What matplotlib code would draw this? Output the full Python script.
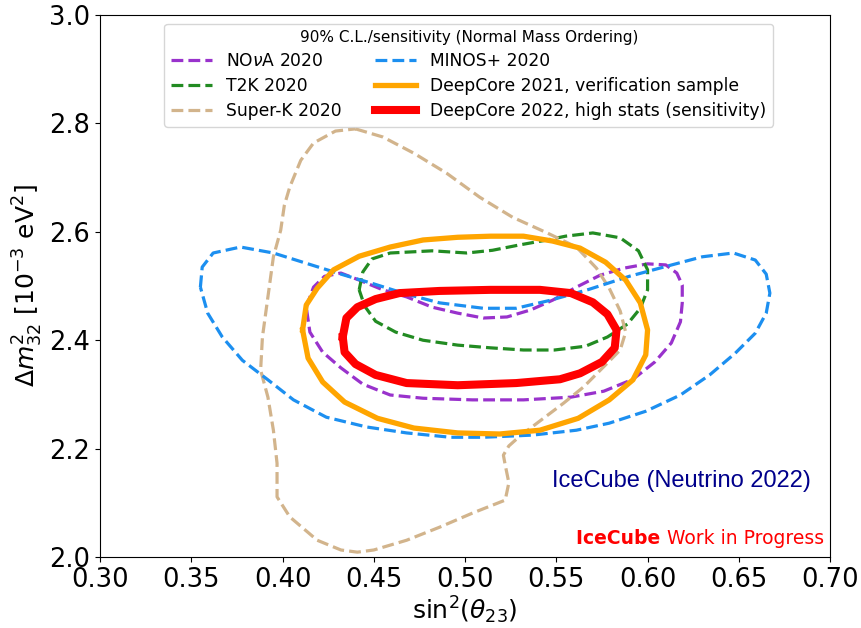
import matplotlib
matplotlib.use("Agg")
import matplotlib.pyplot as plt
import numpy as np

# ---- contour data (sin^2 theta23, dm^2_32 [1e-3 eV^2]) ----
superk_x = [0.440, 0.455, 0.472, 0.490, 0.508, 0.526, 0.545, 0.561, 0.572, 0.579, 0.585, 0.588, 0.585,
            0.578, 0.565, 0.554, 0.541, 0.530, 0.524, 0.521, 0.522, 0.524, 0.522, 0.504, 0.486, 0.468,
            0.450, 0.441, 0.432, 0.419, 0.404, 0.397, 0.397, 0.395, 0.392, 0.388, 0.389, 0.392, 0.395,
            0.399, 0.401, 0.404, 0.410, 0.417, 0.429]
superk_y = [2.790, 2.775, 2.745, 2.708, 2.664, 2.627, 2.598, 2.572, 2.533, 2.496, 2.454, 2.415, 2.382,
            2.358, 2.314, 2.284, 2.251, 2.223, 2.205, 2.188, 2.170, 2.137, 2.105, 2.081, 2.055, 2.031,
            2.013, 2.009, 2.013, 2.031, 2.074, 2.111, 2.173, 2.234, 2.295, 2.345, 2.406, 2.480, 2.554,
            2.603, 2.649, 2.683, 2.732, 2.764, 2.786]

nova_x = [0.413, 0.417, 0.423, 0.432, 0.442, 0.455, 0.468, 0.482, 0.496, 0.510, 0.523, 0.536, 0.548,
          0.561, 0.574, 0.587, 0.600, 0.610, 0.616, 0.619, 0.619, 0.618, 0.613, 0.604, 0.592, 0.576,
          0.558, 0.532, 0.504, 0.477, 0.459, 0.444, 0.432, 0.422, 0.415]
nova_y = [2.461, 2.498, 2.518, 2.524, 2.511, 2.493, 2.480, 2.461, 2.450, 2.441, 2.443, 2.456, 2.474,
          2.498, 2.520, 2.533, 2.541, 2.539, 2.524, 2.502, 2.469, 2.434, 2.395, 2.360, 2.328, 2.306,
          2.295, 2.290, 2.290, 2.293, 2.299, 2.319, 2.349, 2.378, 2.415]

t2k_x = [0.442, 0.444, 0.449, 0.459, 0.482, 0.501, 0.515, 0.530, 0.545, 0.555, 0.570, 0.585, 0.595,
         0.600, 0.600, 0.596, 0.589, 0.578, 0.566, 0.549, 0.532, 0.514, 0.496, 0.477, 0.462, 0.451, 0.445]
t2k_y = [2.493, 2.526, 2.550, 2.561, 2.565, 2.561, 2.566, 2.576, 2.585, 2.592, 2.598, 2.589, 2.565,
         2.530, 2.493, 2.459, 2.430, 2.406, 2.389, 2.382, 2.382, 2.386, 2.391, 2.400, 2.415, 2.435, 2.463]

minos_x = [0.355, 0.356, 0.362, 0.377, 0.395, 0.413, 0.432, 0.450, 0.468, 0.486, 0.510, 0.528, 0.547,
           0.568, 0.590, 0.611, 0.630, 0.647, 0.659, 0.665, 0.667, 0.665, 0.659, 0.648, 0.634, 0.618,
           0.599, 0.579, 0.561, 0.537, 0.510, 0.492, 0.468, 0.446, 0.424, 0.406, 0.392, 0.378, 0.367, 0.359]
minos_y = [2.498, 2.535, 2.561, 2.572, 2.561, 2.542, 2.522, 2.504, 2.485, 2.469, 2.459, 2.459, 2.474,
           2.494, 2.518, 2.537, 2.554, 2.561, 2.548, 2.522, 2.487, 2.450, 2.413, 2.376, 2.336, 2.299,
           2.269, 2.247, 2.234, 2.225, 2.221, 2.221, 2.229, 2.240, 2.258, 2.290, 2.327, 2.363, 2.406, 2.450]

dc21_x = [0.411, 0.413, 0.419, 0.428, 0.442, 0.459, 0.477, 0.496, 0.514, 0.532, 0.548, 0.563, 0.577,
          0.588, 0.596, 0.600, 0.599, 0.592, 0.579, 0.562, 0.541, 0.519, 0.496, 0.472, 0.452, 0.434,
          0.422, 0.414]
dc21_y = [2.419, 2.465, 2.496, 2.530, 2.555, 2.572, 2.585, 2.590, 2.592, 2.592, 2.583, 2.570, 2.544,
          2.511, 2.469, 2.419, 2.373, 2.327, 2.290, 2.256, 2.234, 2.227, 2.229, 2.238, 2.256, 2.286,
          2.323, 2.367]

dc22_x = [0.433, 0.435, 0.441, 0.451, 0.464, 0.486, 0.514, 0.541, 0.558, 0.570, 0.578, 0.583, 0.582,
          0.575, 0.563, 0.552, 0.528, 0.496, 0.468, 0.451, 0.440, 0.434]
dc22_y = [2.406, 2.441, 2.461, 2.476, 2.487, 2.491, 2.493, 2.493, 2.487, 2.470, 2.448, 2.419, 2.386,
          2.360, 2.339, 2.328, 2.321, 2.317, 2.321, 2.336, 2.356, 2.378]

x_ticks = [0.30, 0.35, 0.40, 0.45, 0.50, 0.55, 0.60, 0.65, 0.70]
y_ticks = [2.0, 2.2, 2.4, 2.6, 2.8, 3.0]


def closed(xs, ys):
    return list(xs) + [xs[0]], list(ys) + [ys[0]]


fig = plt.figure(figsize=(8.62, 6.28), dpi=100)
ax = fig.add_axes([0.116, 0.113, 0.847, 0.863])

series = [
    (nova_x, nova_y, "NO$\\nu$A 2020", "darkorchid", "--", 2.3),
    (t2k_x, t2k_y, "T2K 2020", "forestgreen", "--", 2.3),
    (superk_x, superk_y, "Super-K 2020", "tan", "--", 2.3),
    (minos_x, minos_y, "MINOS+ 2020", "#1c8ff0", "--", 2.3),
    (dc21_x, dc21_y, "DeepCore 2021, verification sample", "orange", "-", 3.8),
    (dc22_x, dc22_y, "DeepCore 2022, high stats (sensitivity)", "red", "-", 5.8),
]
for xs, ys, lab, col, ls, lw in series:
    cx, cy = closed(xs, ys)
    ax.plot(cx, cy, color=col, linestyle=ls, linewidth=lw, label=lab,
            dash_capstyle="butt", solid_joinstyle="round")

ax.set_xlim(0.30, 0.70)
ax.set_ylim(2.0, 3.0)
ax.set_xticks(x_ticks)
ax.set_xticklabels([f"{v:.2f}" for v in x_ticks])
ax.set_yticks(y_ticks)
ax.set_yticklabels([f"{v:.1f}" for v in y_ticks])
ax.tick_params(axis="both", labelsize=18.5)
ax.set_xlabel(r"$\mathrm{sin}^2(\theta_{23})$", fontsize=18, labelpad=1)
ax.set_ylabel(r"$\Delta m^2_{32}$ [$10^{-3}$ eV$^2$]", fontsize=18, labelpad=3)

leg = ax.legend(loc="upper center", ncol=2, fontsize=12.3, title="90% C.L./sensitivity (Normal Mass Ordering)",
                title_fontsize=11, handlelength=2.4, columnspacing=2.0, labelspacing=0.4,
                bbox_to_anchor=(0.505, 1.0))

ax.text(0.973, 0.14, "IceCube (Neutrino 2022)", transform=ax.transAxes, ha="right", va="center",
        color="darkblue", fontsize=17, family="Liberation Sans")
t1 = ax.text(0.992, 0.016, "Work in Progress", transform=ax.transAxes, ha="right", va="bottom",
             color="red", fontsize=13.5)
ax.annotate("IceCube ", xy=(0, 0), xycoords=t1, ha="right", va="bottom", color="red",
            fontsize=13.5, fontweight="bold")

fig.savefig("out.png", dpi=100)
